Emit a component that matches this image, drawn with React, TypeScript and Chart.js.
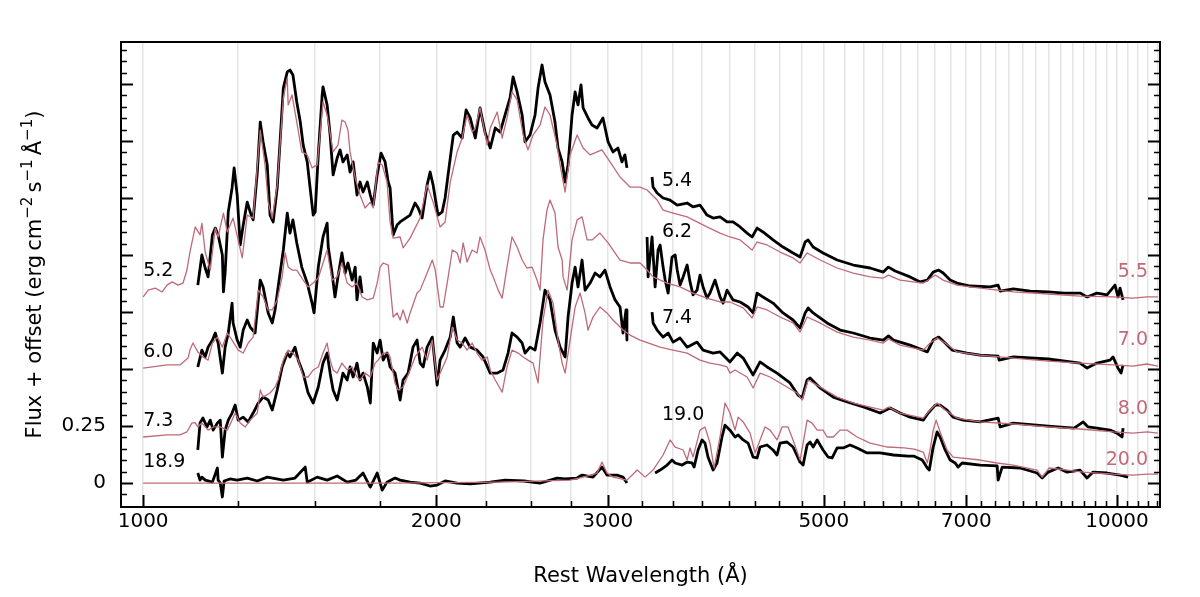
import React, { useEffect, useRef } from 'react';
import Chart from 'chart.js/auto';

type Pt = [number, number];

// Observed UV spectra (rest wavelength in Å, flux + offset)
const uv52: Pt[] = [[1138,0.868],[1149,1.000],[1158,0.943],[1166,0.904],[1178,1.088],[1186,1.118],[1194,1.088],[1206,1.000],[1209,0.838],[1214,0.925],[1223,1.189],[1234,1.294],[1240,1.382],[1249,1.263],[1258,1.044],[1267,1.132],[1279,1.232],[1288,1.189],[1297,1.154],[1310,1.364],[1319,1.583],[1328,1.496],[1341,1.395],[1350,1.175],[1360,1.145],[1373,1.294],[1383,1.513],[1393,1.732],[1406,1.803],[1415,1.811],[1425,1.789],[1438,1.671],[1450,1.583],[1460,1.482],[1474,1.408],[1484,1.294],[1495,1.175],[1502,1.189],[1513,1.439],[1527,1.702],[1530,1.737],[1545,1.658],[1556,1.526],[1567,1.351],[1582,1.425],[1593,1.461],[1604,1.408],[1620,1.439],[1631,1.364],[1643,1.408],[1658,1.263],[1670,1.320],[1682,1.276],[1699,1.320],[1711,1.263],[1723,1.219],[1739,1.351],[1755,1.447],[1772,1.408],[1785,1.320],[1793,1.294],[1806,1.088],[1823,1.132],[1836,1.145],[1849,1.154],[1880,1.175],[1902,1.228],[1916,1.206],[1934,1.162],[1957,1.307],[1971,1.364],[1985,1.307],[2008,1.175],[2028,1.189],[2042,1.250],[2067,1.425],[2082,1.526],[2101,1.539],[2126,1.513],[2146,1.636],[2167,1.601],[2193,1.513],[2218,1.645],[2244,1.539],[2272,1.469],[2299,1.557],[2326,1.539],[2353,1.614],[2381,1.689],[2398,1.781],[2421,1.715],[2450,1.614],[2467,1.496],[2496,1.526],[2526,1.614],[2544,1.732],[2568,1.833],[2586,1.759],[2617,1.702],[2648,1.583],[2667,1.469],[2693,1.408],[2712,1.320],[2731,1.395],[2757,1.614],[2777,1.715],[2796,1.658],[2816,1.746],[2830,1.645],[2863,1.601],[2890,1.570],[2925,1.557],[2966,1.601],[3002,1.496],[3037,1.452],[3073,1.469],[3102,1.408],[3124,1.439],[3139,1.382]];
const uv60: Pt[] = [[1138,0.509],[1149,0.583],[1158,0.553],[1166,0.596],[1178,0.627],[1186,0.658],[1194,0.614],[1206,0.482],[1214,0.596],[1223,0.658],[1234,0.789],[1237,0.702],[1249,0.627],[1258,0.596],[1267,0.671],[1279,0.715],[1288,0.684],[1303,0.658],[1319,0.890],[1328,0.860],[1344,0.746],[1357,0.702],[1366,0.759],[1376,0.860],[1393,1.022],[1406,1.184],[1415,1.096],[1425,1.154],[1438,1.053],[1455,0.947],[1474,0.877],[1491,0.789],[1498,0.746],[1513,0.947],[1530,1.079],[1545,1.140],[1549,1.035],[1563,0.921],[1574,0.816],[1585,0.904],[1600,1.009],[1612,0.921],[1623,0.965],[1639,0.890],[1651,0.947],[1658,0.803],[1670,0.904],[1678,0.833]];
const uv73: Pt[] = [[1138,0.145],[1144,0.263],[1152,0.285],[1163,0.246],[1172,0.276],[1180,0.232],[1192,0.263],[1200,0.276],[1206,0.114],[1214,0.232],[1223,0.276],[1234,0.307],[1243,0.342],[1252,0.276],[1267,0.289],[1282,0.268],[1297,0.307],[1313,0.351],[1328,0.377],[1344,0.364],[1357,0.320],[1373,0.408],[1389,0.509],[1406,0.570],[1415,0.553],[1432,0.596],[1443,0.539],[1460,0.482],[1477,0.395],[1495,0.351],[1513,0.421],[1530,0.526],[1545,0.570],[1556,0.482],[1567,0.408],[1582,0.364],[1593,0.421],[1604,0.482],[1620,0.452],[1631,0.509],[1643,0.465],[1658,0.526],[1670,0.452],[1682,0.482],[1699,0.421],[1711,0.351],[1723,0.614],[1739,0.570],[1751,0.627],[1764,0.539],[1780,0.570],[1793,0.509],[1814,0.482],[1836,0.364],[1849,0.452],[1871,0.482],[1893,0.596],[1911,0.627],[1925,0.526],[1939,0.509],[1957,0.596],[1981,0.640],[2004,0.430],[2018,0.539],[2042,0.583],[2067,0.640],[2082,0.728],[2101,0.614],[2116,0.596],[2141,0.636],[2167,0.596],[2202,0.583],[2234,0.553],[2272,0.482],[2310,0.482],[2342,0.496],[2370,0.570],[2392,0.658],[2421,0.640],[2450,0.614],[2467,0.570],[2496,0.596],[2526,0.583],[2556,0.702],[2586,0.846],[2617,0.803],[2648,0.671],[2680,0.596],[2712,0.553],[2731,0.728],[2757,0.877],[2777,0.947],[2796,0.860],[2823,0.978],[2843,0.846],[2877,0.877],[2911,0.921],[2945,0.904],[2980,0.934],[3016,0.860],[3052,0.803],[3088,0.772],[3110,0.658],[3132,0.759],[3139,0.627]];
const uv189: Pt[] = [[1138,0.044],[1144,0.013],[1149,0.026],[1158,0.013],[1178,0.004],[1192,0.066],[1194,0.013],[1200,0.000],[1206,-0.061],[1211,0.009],[1228,0.018],[1249,0.013],[1279,0.022],[1310,0.009],[1341,0.026],[1393,0.013],[1432,0.022],[1467,0.070],[1474,0.004],[1509,0.026],[1545,0.013],[1582,0.031],[1620,0.004],[1654,0.013],[1682,0.044],[1711,-0.018],[1739,0.044],[1760,-0.031],[1780,0.004],[1814,0.022],[1836,0.013],[1880,0.004],[1925,0.000],[1971,-0.013],[2004,-0.009],[2042,0.009],[2101,0.000],[2167,-0.004],[2272,0.004],[2353,0.013],[2461,0.009],[2556,0.000],[2661,0.022],[2712,0.018],[2790,0.022],[2823,0.035],[2897,0.026],[2959,0.070],[2994,0.035],[3066,0.035],[3110,0.026],[3139,0.000]];

// Observed optical spectra
const opt54: Pt[] = [[3331,1.342],[3339,1.298],[3371,1.272],[3419,1.250],[3476,1.241],[3535,1.219],[3619,1.228],[3670,1.211],[3731,1.219],[3793,1.175],[3848,1.162],[3912,1.167],[3977,1.145],[4034,1.145],[4102,1.123],[4170,1.096],[4220,1.079],[4270,1.118],[4330,1.101],[4434,1.066],[4540,1.035],[4649,1.009],[4727,0.991],[4784,1.057],[4818,1.066],[4875,1.035],[4991,1.009],[5160,0.978],[5360,0.956],[5578,0.943],[5755,0.925],[5825,0.947],[5918,0.930],[6131,0.904],[6279,0.882],[6386,0.890],[6475,0.925],[6560,0.934],[6630,0.921],[6740,0.890],[6851,0.877],[7067,0.864],[7409,0.860],[7550,0.868],[7586,0.842],[7825,0.851],[8144,0.842],[8498,0.838],[8824,0.833],[9164,0.833],[9316,0.816],[9537,0.833],[9767,0.825],[9953,0.868],[10024,0.816],[10072,0.855],[10144,0.803]];
const opt62: Pt[] = [[3292,1.079],[3300,0.904],[3331,1.079],[3355,0.860],[3379,1.022],[3395,1.044],[3419,0.947],[3436,0.890],[3460,0.833],[3492,0.991],[3518,1.000],[3535,0.934],[3559,0.868],[3585,0.904],[3619,0.956],[3644,0.882],[3670,0.825],[3705,0.846],[3731,0.912],[3758,0.860],[3793,0.811],[3820,0.833],[3866,0.890],[3912,0.816],[3940,0.789],[3977,0.846],[4034,0.803],[4102,0.794],[4180,0.772],[4230,0.746],[4270,0.833],[4330,0.816],[4434,0.789],[4540,0.746],[4649,0.715],[4727,0.680],[4784,0.746],[4818,0.768],[4875,0.746],[5038,0.702],[5196,0.671],[5360,0.658],[5578,0.636],[5755,0.627],[5825,0.645],[5895,0.627],[6131,0.605],[6386,0.575],[6475,0.627],[6560,0.640],[6661,0.614],[6772,0.583],[7016,0.570],[7236,0.561],[7550,0.557],[7568,0.539],[7825,0.553],[8498,0.544],[9164,0.526],[9316,0.504],[9537,0.526],[9837,0.539],[9906,0.553],[10024,0.504],[10096,0.482],[10144,0.518]];
const opt74: Pt[] = [[3331,0.750],[3339,0.702],[3371,0.671],[3419,0.640],[3460,0.658],[3501,0.618],[3559,0.636],[3619,0.596],[3705,0.618],[3758,0.583],[3848,0.570],[3912,0.575],[4005,0.531],[4074,0.570],[4132,0.548],[4230,0.474],[4300,0.531],[4372,0.509],[4476,0.482],[4616,0.439],[4704,0.386],[4750,0.373],[4806,0.452],[4840,0.461],[4956,0.417],[5112,0.377],[5294,0.355],[5500,0.333],[5711,0.307],[5848,0.329],[5988,0.307],[6131,0.289],[6325,0.276],[6400,0.307],[6506,0.342],[6582,0.342],[6691,0.320],[6787,0.289],[6950,0.276],[7236,0.268],[7550,0.285],[7586,0.246],[7825,0.263],[8498,0.250],[9036,0.241],[9232,0.268],[9338,0.246],[9537,0.241],[9837,0.232],[10000,0.219],[10120,0.202],[10144,0.241]];
const opt190: Pt[] = [[3355,0.044],[3395,0.057],[3452,0.079],[3492,0.101],[3518,0.088],[3577,0.079],[3619,0.092],[3661,0.088],[3679,0.070],[3714,0.145],[3749,0.189],[3775,0.175],[3802,0.114],[3848,0.057],[3884,0.088],[3930,0.202],[3958,0.254],[4005,0.232],[4053,0.202],[4083,0.211],[4132,0.189],[4180,0.175],[4230,0.114],[4270,0.110],[4300,0.158],[4372,0.167],[4434,0.145],[4476,0.123],[4508,0.175],[4583,0.180],[4649,0.158],[4727,0.092],[4761,0.079],[4806,0.167],[4840,0.180],[4875,0.158],[4922,0.189],[4956,0.167],[4991,0.145],[5050,0.114],[5099,0.110],[5160,0.154],[5233,0.154],[5320,0.167],[5409,0.154],[5538,0.132],[5711,0.132],[5895,0.123],[6102,0.118],[6190,0.118],[6310,0.101],[6386,0.066],[6416,0.057],[6475,0.158],[6536,0.224],[6582,0.202],[6661,0.145],[6740,0.101],[6820,0.088],[6868,0.070],[6934,0.088],[7236,0.079],[7532,0.075],[7550,0.013],[7622,0.070],[7953,0.066],[8278,0.044],[8378,0.022],[8498,0.048],[8700,0.066],[8887,0.048],[9164,0.057],[9316,0.022],[9450,0.048],[9767,0.044],[10072,0.035],[10265,0.026]];

// Model spectra
const model55: Pt[] = [[1000,0.816],[1012,0.846],[1029,0.855],[1046,0.838],[1058,0.868],[1071,0.882],[1086,0.868],[1099,0.877],[1109,0.934],[1117,1.013],[1131,1.123],[1144,1.088],[1149,1.140],[1158,1.013],[1172,0.934],[1186,1.118],[1194,1.079],[1209,1.184],[1220,1.101],[1237,1.162],[1264,0.987],[1279,1.175],[1297,1.162],[1319,1.548],[1334,1.395],[1344,1.232],[1357,1.162],[1373,1.307],[1393,1.689],[1406,1.776],[1409,1.658],[1422,1.702],[1438,1.583],[1455,1.452],[1474,1.439],[1491,1.382],[1509,1.395],[1530,1.671],[1545,1.614],[1567,1.452],[1585,1.482],[1600,1.592],[1612,1.583],[1623,1.548],[1631,1.452],[1651,1.338],[1670,1.263],[1690,1.206],[1711,1.232],[1723,1.206],[1743,1.408],[1760,1.395],[1780,1.320],[1793,1.145],[1806,1.074],[1836,1.079],[1849,1.031],[1880,1.074],[1925,1.162],[1957,1.307],[1985,1.232],[2018,1.123],[2042,1.145],[2067,1.320],[2101,1.452],[2126,1.513],[2151,1.614],[2177,1.539],[2193,1.557],[2218,1.645],[2256,1.482],[2272,1.557],[2310,1.627],[2337,1.513],[2364,1.601],[2392,1.715],[2421,1.680],[2456,1.526],[2484,1.461],[2514,1.526],[2556,1.570],[2586,1.649],[2617,1.614],[2661,1.482],[2680,1.395],[2712,1.276],[2744,1.439],[2790,1.526],[2830,1.469],[2877,1.439],[2925,1.452],[2959,1.461],[3016,1.408],[3088,1.342],[3162,1.298],[3238,1.298],[3292,1.285],[3371,1.241],[3419,1.197],[3501,1.184],[3619,1.167],[3705,1.145],[3793,1.123],[3912,1.096],[4005,1.079],[4102,1.066],[4220,1.022],[4270,1.057],[4372,1.044],[4508,1.013],[4649,0.987],[4727,0.965],[4806,1.009],[4956,0.978],[5160,0.943],[5360,0.921],[5578,0.904],[5755,0.899],[5825,0.912],[5988,0.890],[6325,0.877],[6400,0.890],[6506,0.912],[6630,0.890],[6851,0.868],[7236,0.855],[7825,0.838],[8498,0.829],[9164,0.820],[9906,0.816],[10385,0.811],[10735,0.816],[11014,0.816]];
const model70: Pt[] = [[1000,0.504],[1058,0.518],[1091,0.518],[1112,0.548],[1117,0.583],[1125,0.614],[1138,0.575],[1152,0.553],[1166,0.539],[1178,0.614],[1192,0.640],[1206,0.596],[1220,0.658],[1234,0.627],[1252,0.583],[1267,0.570],[1282,0.614],[1297,0.640],[1313,0.846],[1328,0.816],[1344,0.759],[1357,0.759],[1373,0.803],[1389,0.904],[1399,1.009],[1409,0.947],[1422,0.934],[1438,0.934],[1460,0.890],[1477,0.860],[1495,0.877],[1513,0.899],[1545,1.022],[1563,0.890],[1582,0.904],[1600,0.965],[1620,0.877],[1639,0.860],[1658,0.877],[1678,0.816],[1699,0.803],[1723,0.811],[1739,0.877],[1751,0.947],[1764,0.965],[1785,0.956],[1806,0.728],[1823,0.746],[1836,0.715],[1849,0.759],[1867,0.702],[1880,0.746],[1911,0.833],[1925,0.846],[1957,0.921],[1981,0.978],[1995,0.934],[2018,0.772],[2033,0.772],[2057,0.904],[2077,1.022],[2101,1.009],[2116,0.965],[2131,1.053],[2151,0.969],[2177,1.022],[2202,1.009],[2218,1.079],[2244,1.022],[2272,0.934],[2288,0.904],[2315,0.846],[2337,0.811],[2364,0.947],[2392,1.079],[2421,1.035],[2450,0.978],[2478,0.943],[2508,0.947],[2538,0.890],[2556,0.846],[2574,1.066],[2598,1.197],[2617,1.241],[2648,1.184],[2667,1.035],[2693,0.978],[2699,0.904],[2725,0.846],[2757,1.066],[2790,1.154],[2823,1.167],[2857,1.066],[2890,1.066],[2945,1.096],[3002,1.053],[3088,0.978],[3162,0.965],[3238,0.965],[3292,0.934],[3339,0.904],[3452,0.877],[3559,0.860],[3670,0.833],[3793,0.811],[3912,0.794],[4005,0.794],[4132,0.768],[4220,0.724],[4270,0.772],[4372,0.759],[4508,0.728],[4649,0.702],[4727,0.662],[4806,0.728],[4956,0.702],[5160,0.662],[5360,0.640],[5578,0.627],[5755,0.614],[5825,0.632],[5988,0.605],[6325,0.583],[6428,0.614],[6536,0.636],[6661,0.614],[6851,0.575],[7236,0.561],[7825,0.548],[8498,0.535],[9164,0.526],[9906,0.518],[10385,0.513],[10735,0.522],[11014,0.513]];
const model80: Pt[] = [[1000,0.202],[1058,0.211],[1091,0.211],[1109,0.224],[1122,0.263],[1131,0.265],[1138,0.246],[1149,0.263],[1166,0.232],[1180,0.246],[1200,0.246],[1220,0.232],[1234,0.276],[1243,0.307],[1258,0.263],[1273,0.246],[1288,0.276],[1310,0.307],[1319,0.408],[1328,0.377],[1350,0.395],[1366,0.421],[1376,0.452],[1393,0.539],[1409,0.583],[1425,0.570],[1443,0.539],[1460,0.465],[1477,0.465],[1495,0.496],[1513,0.509],[1530,0.570],[1545,0.614],[1556,0.539],[1567,0.496],[1582,0.482],[1600,0.526],[1620,0.496],[1639,0.509],[1658,0.465],[1670,0.452],[1690,0.482],[1711,0.465],[1731,0.526],[1743,0.539],[1764,0.570],[1785,0.570],[1793,0.553],[1814,0.439],[1827,0.408],[1849,0.421],[1880,0.496],[1902,0.553],[1934,0.596],[1957,0.539],[1981,0.627],[2004,0.452],[2018,0.482],[2052,0.553],[2077,0.684],[2101,0.627],[2126,0.614],[2151,0.583],[2177,0.614],[2202,0.570],[2228,0.539],[2256,0.553],[2272,0.496],[2299,0.452],[2337,0.399],[2364,0.509],[2392,0.583],[2427,0.570],[2456,0.553],[2484,0.539],[2514,0.526],[2544,0.439],[2574,0.715],[2605,0.846],[2636,0.789],[2667,0.627],[2693,0.526],[2712,0.482],[2744,0.627],[2777,0.772],[2810,0.833],[2843,0.746],[2863,0.671],[2897,0.728],[2945,0.772],[2994,0.746],[3037,0.715],[3110,0.671],[3162,0.649],[3238,0.627],[3395,0.596],[3501,0.583],[3619,0.570],[3731,0.539],[3820,0.526],[3912,0.518],[3977,0.509],[4005,0.482],[4053,0.496],[4170,0.465],[4230,0.417],[4300,0.482],[4403,0.465],[4583,0.421],[4693,0.395],[4750,0.364],[4818,0.452],[4956,0.421],[5160,0.377],[5360,0.351],[5578,0.333],[5755,0.320],[5825,0.333],[5988,0.307],[6325,0.285],[6428,0.320],[6536,0.351],[6661,0.320],[6851,0.285],[7236,0.268],[7825,0.259],[8498,0.246],[9164,0.237],[9906,0.224],[10385,0.219],[10735,0.224],[11014,0.219]];
const model200: Pt[] = [[1000,0.000],[1793,0.000],[2326,0.004],[2744,0.013],[2830,0.026],[2925,0.044],[2959,0.092],[2994,0.044],[3037,0.026],[3139,0.013],[3216,0.057],[3277,0.026],[3339,0.057],[3419,0.123],[3476,0.189],[3518,0.158],[3585,0.145],[3619,0.101],[3644,0.154],[3670,0.114],[3731,0.232],[3775,0.246],[3820,0.175],[3857,0.066],[3912,0.202],[3958,0.351],[4005,0.307],[4053,0.232],[4083,0.289],[4132,0.268],[4200,0.219],[4250,0.132],[4300,0.189],[4351,0.246],[4403,0.232],[4476,0.189],[4530,0.246],[4594,0.246],[4649,0.189],[4727,0.101],[4761,0.175],[4806,0.276],[4863,0.263],[4922,0.232],[4991,0.232],[5038,0.202],[5112,0.202],[5196,0.232],[5282,0.232],[5409,0.202],[5578,0.175],[5811,0.158],[6045,0.154],[6190,0.149],[6325,0.136],[6386,0.088],[6428,0.145],[6475,0.232],[6521,0.276],[6582,0.224],[6691,0.145],[6787,0.114],[7236,0.101],[7532,0.088],[7825,0.079],[8278,0.057],[8378,0.026],[8518,0.066],[8887,0.057],[9232,0.048],[9906,0.039],[10385,0.035],[10735,0.039],[11014,0.039]];

// Axis settings
const X_MIN = 949;
const X_MAX = 11070;
const Y_MIN = -0.105;
const Y_MAX = 1.934;
const xMajorTicks = [1000, 2000, 3000, 5000, 7000, 10000];
const yLabelledTicks = [0, 0.25];

const OBS_COLOR = '#000000';
const MODEL_COLOR = '#bf6a78';
const FONT_FAMILY = '"DejaVu Sans", sans-serif';
const LABEL_SIZE = 19;
const TICK_SIZE = 20;
const TITLE_SIZE = 21;

// phase labels next to each spectrum
const phaseLabels = [
  { text: '5.2', wave: 1000, flux: 0.93, color: OBS_COLOR, align: 'left' },
  { text: '6.0', wave: 1000, flux: 0.575, color: OBS_COLOR, align: 'left' },
  { text: '7.3', wave: 1000, flux: 0.272, color: OBS_COLOR, align: 'left' },
  { text: '18.9', wave: 1000, flux: 0.09, color: OBS_COLOR, align: 'left' },
  { text: '5.4', wave: 3410, flux: 1.325, color: OBS_COLOR, align: 'left' },
  { text: '6.2', wave: 3410, flux: 1.099, color: OBS_COLOR, align: 'left' },
  { text: '7.4', wave: 3410, flux: 0.724, color: OBS_COLOR, align: 'left' },
  { text: '19.0', wave: 3410, flux: 0.298, color: OBS_COLOR, align: 'left' },
  { text: '5.5', wave: 10760, flux: 0.925, color: MODEL_COLOR, align: 'right' },
  { text: '7.0', wave: 10760, flux: 0.627, color: MODEL_COLOR, align: 'right' },
  { text: '8.0', wave: 10760, flux: 0.325, color: MODEL_COLOR, align: 'right' },
  { text: '20.0', wave: 10760, flux: 0.101, color: MODEL_COLOR, align: 'right' },
];

const gridWaves: number[] = [];
for (let w = 1000; w <= 11000; w += 250) gridWaves.push(w);

const toXY = (pts: Pt[]) => pts.map(([x, y]) => ({ x, y }));

const lineSet = (pts: Pt[], color: string, width: number, order: number) => ({
  data: toXY(pts),
  borderColor: color,
  borderWidth: width,
  pointRadius: 0,
  fill: false,
  tension: 0,
  order,
  borderJoinStyle: 'round' as const,
});

const framePlugin = {
  id: 'spectraFrame',
  afterDraw(chart: any) {
    const { ctx, chartArea: a, scales } = chart;
    const xs = scales.x;
    const ys = scales.y;
    ctx.save();
    ctx.strokeStyle = '#000';

    // y ticks (left and right, pointing inward)
    for (let i = -2; i * 0.05 <= Y_MAX; i++) {
      const v = i * 0.05;
      const py = Math.round(ys.getPixelForValue(v)) + 0.5;
      if (py > a.bottom - 1 || py < a.top + 1) continue;
      const major = i % 5 === 0;
      const len = major ? 12 : 6;
      ctx.lineWidth = major ? 2 : 1.5;
      ctx.beginPath();
      ctx.moveTo(a.left, py);
      ctx.lineTo(a.left + len, py);
      ctx.moveTo(a.right, py);
      ctx.lineTo(a.right - len, py);
      ctx.stroke();
    }
    // x ticks (bottom, pointing inward)
    for (const w of gridWaves) {
      const px = Math.round(xs.getPixelForValue(w)) + 0.5;
      const major = xMajorTicks.includes(w);
      const len = major ? 12 : 6;
      ctx.lineWidth = major ? 2 : 1.5;
      ctx.beginPath();
      ctx.moveTo(px, a.bottom);
      ctx.lineTo(px, a.bottom - len);
      ctx.stroke();
    }
    // frame
    ctx.lineWidth = 2;
    ctx.strokeRect(a.left, a.top, a.right - a.left, a.bottom - a.top);

    ctx.fillStyle = '#000';
    ctx.font = `${TICK_SIZE}px ${FONT_FAMILY}`;
    ctx.textBaseline = 'middle';
    ctx.textAlign = 'center';
    for (const w of xMajorTicks) {
      ctx.fillText(String(w), xs.getPixelForValue(w), a.bottom + 15);
    }
    ctx.textAlign = 'right';
    for (const v of yLabelledTicks) {
      ctx.fillText(String(v), a.left - 15, ys.getPixelForValue(v));
    }
    // axis titles
    ctx.font = `${TITLE_SIZE}px ${FONT_FAMILY}`;
    ctx.textAlign = 'center';
    ctx.fillText('Rest Wavelength (Å)', (a.left + a.right) / 2, 577);

    ctx.save();
    ctx.translate(33, (a.top + a.bottom) / 2);
    ctx.rotate(-Math.PI / 2);
    const parts = [
      { t: 'Flux + offset (erg\u2009cm', sup: false },
      { t: '\u22122', sup: true },
      { t: '\u2009s', sup: false },
      { t: '\u22121', sup: true },
      { t: '\u2009Å', sup: false },
      { t: '\u22121', sup: true },
      { t: ')', sup: false },
    ];
    const supSize = Math.round(TITLE_SIZE * 0.7);
    let total = 0;
    for (const p of parts) {
      ctx.font = `${p.sup ? supSize : TITLE_SIZE}px ${FONT_FAMILY}`;
      total += ctx.measureText(p.t).width;
    }
    let x0 = -total / 2;
    ctx.textAlign = 'left';
    ctx.textBaseline = 'alphabetic';
    for (const p of parts) {
      ctx.font = `${p.sup ? supSize : TITLE_SIZE}px ${FONT_FAMILY}`;
      ctx.fillText(p.t, x0, TITLE_SIZE * 0.36 - (p.sup ? TITLE_SIZE * 0.42 : 0));
      x0 += ctx.measureText(p.t).width;
    }
    ctx.restore();

    // phase labels
    ctx.font = `${LABEL_SIZE}px ${FONT_FAMILY}`;
    ctx.textBaseline = 'middle';
    for (const l of phaseLabels) {
      ctx.fillStyle = l.color;
      ctx.textAlign = l.align as CanvasTextAlign;
      ctx.fillText(l.text, xs.getPixelForValue(l.wave), ys.getPixelForValue(l.flux));
    }
    ctx.restore();
  },
};

export default function App() {
  const canvasRef = useRef<HTMLCanvasElement | null>(null);

  useEffect(() => {
    document.body.style.margin = '0';
    const canvas = canvasRef.current;
    if (!canvas) return;
    const chart = new Chart(canvas, {
      type: 'line',
      data: {
        datasets: [
          lineSet(model55, MODEL_COLOR, 1.3, 0),
          lineSet(model70, MODEL_COLOR, 1.3, 0),
          lineSet(model80, MODEL_COLOR, 1.3, 0),
          lineSet(model200, MODEL_COLOR, 1.3, 0),
          lineSet(uv52, OBS_COLOR, 2.8, 1),
          lineSet(uv60, OBS_COLOR, 2.8, 1),
          lineSet(uv73, OBS_COLOR, 2.8, 1),
          lineSet(uv189, OBS_COLOR, 2.8, 1),
          lineSet(opt54, OBS_COLOR, 2.8, 1),
          lineSet(opt62, OBS_COLOR, 2.8, 1),
          lineSet(opt74, OBS_COLOR, 2.8, 1),
          lineSet(opt190, OBS_COLOR, 2.8, 1),
        ],
      },
      options: {
        responsive: false,
        animation: false,
        events: [],
        layout: { padding: { top: 42, right: 40, left: 0, bottom: 0 } },
        plugins: { legend: { display: false }, tooltip: { enabled: false } },
        scales: {
          x: {
            type: 'logarithmic',
            min: X_MIN,
            max: X_MAX,
            afterBuildTicks: (s: any) => {
              s.ticks = gridWaves.map((v) => ({ value: v }));
            },
            afterFit: (s: any) => {
              s.height = 90;
            },
            ticks: { display: false },
            grid: { color: '#e4e4e4', lineWidth: 1.5, drawTicks: false },
            border: { display: false },
          },
          y: {
            type: 'linear',
            min: Y_MIN,
            max: Y_MAX,
            afterFit: (s: any) => {
              s.width = 121;
            },
            ticks: { display: false },
            grid: { display: false },
            border: { display: false },
          },
        },
      },
      plugins: [framePlugin],
    });
    return () => chart.destroy();
  }, []);

  return (
    <div style={{ width: 1200, height: 597, position: 'absolute', left: 0, top: 0, background: '#fff' }}>
      <canvas ref={canvasRef} width={1200} height={597} style={{ display: 'block', width: 1200, height: 597 }} />
    </div>
  );
}
